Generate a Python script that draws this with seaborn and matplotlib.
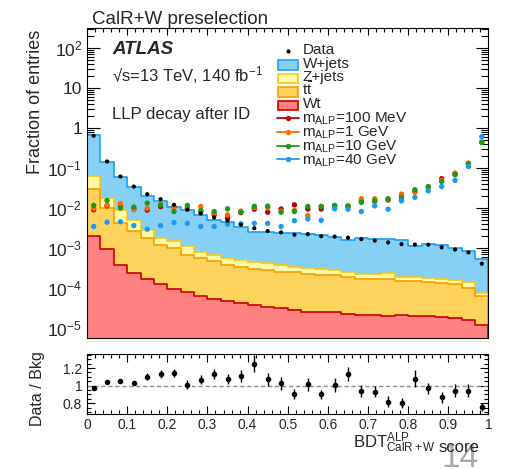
import numpy as np
import pandas as pd
import matplotlib
matplotlib.use("Agg")
import matplotlib.pyplot as plt
import seaborn as sns
from matplotlib.ticker import (LogLocator, FuncFormatter, MultipleLocator,
                               FixedLocator, NullFormatter)
from matplotlib.patches import Rectangle
from matplotlib.lines import Line2D

# ---------------- data ----------------
n_bins = 30
data_frac = [0.65, 0.148, 0.0625, 0.035, 0.0225, 0.0169, 0.0122, 0.0092, 0.0074, 0.0059,
             0.0049, 0.0039, 0.00317, 0.00271, 0.00250, 0.00218, 0.00226, 0.00200, 0.00196, 0.00184,
             0.0017, 0.00156, 0.00140, 0.00127, 0.00124, 0.00123, 0.00106, 0.00093, 0.00079, 0.00041]
# stack levels (cumulative tops): Wt, Wt+ttbar, Wt+ttbar+Z+jets, total (+W+jets)
stack_total = [0.665, 0.143, 0.0594, 0.034, 0.0204, 0.0149, 0.0107, 0.0091, 0.0069, 0.0052,
               0.00455, 0.0035, 0.00254, 0.00253, 0.00245, 0.00240, 0.00224, 0.00220, 0.00196, 0.00163,
               0.00181, 0.00168, 0.00170, 0.00158, 0.00113, 0.00127, 0.00122, 0.00099, 0.00084, 0.00055]
stack_zjets = [0.065, 0.0186, 0.0092, 0.0050, 0.0029, 0.0018, 0.00148, 0.00115, 0.00083, 0.00069,
               0.00057, 0.00051, 0.00045, 0.00043, 0.00039, 0.00035, 0.00032, 0.00031, 0.00028, 0.00026,
               0.00023, 0.000227, 0.000235, 0.000197, 0.000187, 0.00018, 0.000174, 0.000165, 0.000141, 7.6e-5]
stack_ttbar = [0.030, 0.010, 0.0042, 0.0027, 0.0018, 0.00122, 0.0010, 0.00069, 0.00056, 0.00047,
               0.00039, 0.00035, 0.00031, 0.00029, 0.00026, 0.00025, 0.00023, 0.00022, 0.00021, 0.000187,
               0.000175, 0.000174, 0.000174, 0.000156, 0.000148, 0.000142, 0.000135, 0.000127, 0.0001, 6.6e-5]
stack_wt = [0.0020, 0.00095, 0.00039, 0.00024, 0.000174, 0.000127, 9.7e-5, 7.9e-5, 6.3e-5, 5.4e-5,
            4.7e-5, 4.3e-5, 3.9e-5, 3.5e-5, 3.2e-5, 2.9e-5, 2.6e-5, 2.5e-5, 2.5e-5, 2.27e-5,
            2.2e-5, 2.1e-5, 2.05e-5, 2.1e-5, 2.0e-5, 2.0e-5, 1.9e-5, 1.86e-5, 1.6e-5, 1.23e-5]

sig_100mev = [0.0092, 0.0115, 0.011, 0.0098, 0.0090, 0.011, 0.011, 0.0100, 0.0082, 0.0069,
              0.0057, 0.0078, 0.0095, 0.0080, 0.0096, 0.0122, 0.0096, 0.0096, 0.0111, 0.0113,
              0.0155, 0.0150, 0.0160, 0.0200, 0.026, 0.033, 0.055, 0.072, 0.132, 0.45]
sig_1gev = [0.0100, 0.0120, 0.0130, 0.0092, 0.0100, 0.0125, 0.0105, 0.0100, 0.0111, 0.0075,
            0.0069, 0.0085, 0.0105, 0.0103, 0.0085, 0.0089, 0.0066, 0.0113, 0.0115, 0.0117,
            0.0173, 0.0173, 0.0165, 0.0226, 0.025, 0.034, 0.050, 0.076, 0.135, 0.46]
sig_10gev = [0.0118, 0.0157, 0.0101, 0.0107, 0.0135, 0.0122, 0.0083, 0.0118, 0.0088, 0.0083,
             0.0097, 0.0080, 0.0112, 0.0113, 0.0080, 0.0083, 0.0111, 0.0109, 0.0118, 0.0111,
             0.0140, 0.0155, 0.0173, 0.0182, 0.029, 0.035, 0.047, 0.069, 0.128, 0.44]
sig_40gev = [0.0035, 0.0045, 0.0046, 0.0037, 0.0030, 0.0037, 0.0044, 0.0042, 0.0035, 0.0035,
             0.0040, 0.0041, 0.0042, 0.0042, 0.0035, 0.0049, 0.0054, 0.0050, 0.0097, 0.0095,
             0.0083, 0.0115, 0.0095, 0.0154, 0.0187, 0.0274, 0.035, 0.050, 0.111, 0.62]

ratio = [0.977, 1.038, 1.053, 1.03, 1.103, 1.133, 1.145, 1.011, 1.069, 1.13,
         1.076, 1.114, 1.248, 1.072, 1.027, 0.90, 1.015, 0.90, 1.008, 1.133,
         0.939, 0.931, 0.817, 0.798, 1.08, 0.97, 0.867, 0.943, 0.943, 0.752]
ratio_err = [0.008, 0.010, 0.012, 0.014, 0.038, 0.045, 0.045, 0.050, 0.053, 0.057,
             0.060, 0.068, 0.095, 0.072, 0.076, 0.057, 0.076, 0.053, 0.084, 0.076,
             0.065, 0.065, 0.065, 0.057, 0.095, 0.065, 0.065, 0.076, 0.076, 0.046]

bkg_labels = ["W+jets", "Z+jets", r"t$\bar{\mathrm{t}}$", "Wt"]
sig_labels = [r"m$_{\mathrm{ALP}}$=100 MeV", r"m$_{\mathrm{ALP}}$=1 GeV",
              r"m$_{\mathrm{ALP}}$=10 GeV", r"m$_{\mathrm{ALP}}$=40 GeV"]

# ---------------- style ----------------
W, H = 506, 469
sns.set_theme(style="ticks")
plt.rcParams["font.family"] = ["Liberation Sans", "DejaVu Sans"]
plt.rcParams["mathtext.fontset"] = "custom"
plt.rcParams["mathtext.rm"] = "Liberation Sans"
plt.rcParams["mathtext.it"] = "Liberation Sans:italic"
plt.rcParams["mathtext.bf"] = "Liberation Sans:bold"
plt.rcParams["axes.linewidth"] = 0.8
plt.rcParams["axes.edgecolor"] = "black"

fill_cols = ["#86d0f6", "#fff9a8", "#fdd35e", "#ff8282"]
edge_cols = ["#1a9ff0", "#f7c61c", "#f7a000", "#cc0000"]
sig_cols = ["#c00000", "#ff6a00", "#1a9a1a", "#1a9af0"]

def fx(x):
    return x / W

def fy(y):
    return 1 - y / H

fig = plt.figure(figsize=(W / 100, H / 100), dpi=100)
fig.patch.set_facecolor("white")
ax = fig.add_axes([fx(87), fy(338.3), (488.5 - 87) / W, (338.3 - 28.3) / H])
axr = fig.add_axes([fx(87), fy(413.7), (488.5 - 87) / W, (413.7 - 354) / H])

edges = np.linspace(0, 1, n_bins + 1)
centers = 0.5 * (edges[:-1] + edges[1:])
bin_list = [float(e) for e in edges]

ax.set_yscale("log")
levels = [stack_total, stack_zjets, stack_ttbar, stack_wt]
for vals, fc, ec in zip(levels, fill_cols, edge_cols):
    df = pd.DataFrame({"score": centers, "frac": vals})
    sns.histplot(data=df, x="score", weights="frac", bins=bin_list, element="step",
                 fill=True, color=fc, edgecolor=ec, alpha=1, linewidth=1.2, ax=ax)

for vals, c in zip([sig_100mev, sig_1gev, sig_10gev, sig_40gev], sig_cols):
    sns.scatterplot(x=centers, y=vals, color=c, s=15, edgecolor="none", linewidth=0,
                    ax=ax, zorder=3, legend=False)
sns.scatterplot(x=centers, y=data_frac, color="black", s=9, edgecolor="none", linewidth=0,
                ax=ax, zorder=4, legend=False)

ax.set_xlim(0, 1)
ax.set_ylim(10 ** -5.25, 10 ** 2.5)
ax.set_xlabel("")
ax.set_ylabel("")

def log_fmt(v, _):
    e = int(round(np.log10(v)))
    if e == 0:
        return "1"
    if e == 1:
        return "10"
    return r"10$^{%d}$" % e

ax.yaxis.set_major_locator(LogLocator(base=10, numticks=20))
ax.yaxis.set_minor_locator(LogLocator(base=10, subs=np.arange(2, 10), numticks=20))
ax.yaxis.set_major_formatter(FuncFormatter(log_fmt))
ax.yaxis.set_minor_formatter(NullFormatter())
ax.xaxis.set_major_locator(MultipleLocator(0.1))
ax.xaxis.set_minor_locator(MultipleLocator(0.02))
ax.tick_params(axis="both", which="both", direction="in", top=True, right=True,
               labelbottom=False, width=0.8, color="black")
ax.tick_params(axis="y", which="major", length=9, labelsize=12.5, pad=3.5)
ax.tick_params(axis="y", which="minor", length=5)
ax.tick_params(axis="x", which="major", length=5.3)
ax.tick_params(axis="x", which="minor", length=2.6)

# ratio panel
axr.errorbar(centers, ratio, yerr=ratio_err, fmt="o", color="black", ms=3.0,
             elinewidth=1.0, capsize=0, zorder=3)
axr.axhline(1.0, color="#8c8c8c", lw=1.0, ls=(0, (3, 2)), zorder=1)
axr.set_xlim(0, 1)
axr.set_ylim(0.68, 1.36)
axr.xaxis.set_major_locator(MultipleLocator(0.1))
axr.xaxis.set_minor_locator(MultipleLocator(0.02))
axr.xaxis.set_major_formatter(FuncFormatter(lambda v, _: f"{v:g}"))
axr.yaxis.set_major_locator(FixedLocator([0.8, 1.0, 1.2]))
axr.yaxis.set_minor_locator(MultipleLocator(0.05))
axr.yaxis.set_major_formatter(FuncFormatter(lambda v, _: f"{v:g}"))
axr.tick_params(axis="both", which="both", direction="in", top=True, right=True,
                width=0.8, color="black", labelsize=10)
axr.tick_params(axis="x", which="major", length=5.5, pad=3)
axr.tick_params(axis="x", which="minor", length=2.8)
axr.tick_params(axis="y", which="major", length=6, pad=3.5)
axr.tick_params(axis="y", which="minor", length=3)

# ---------------- texts ----------------
fig.text(fx(91.5), fy(23.5), "CalR+W preselection", fontsize=13.5, va="baseline", ha="left")
fig.text(fx(112), fy(54.3), "ATLAS", fontsize=13.5, weight="bold", style="italic",
         va="baseline", ha="left")
fig.text(fx(112), fy(81.7), "√s=13 TeV, 140 fb$^{-1}$", fontsize=12, va="baseline", ha="left")
fig.text(fx(112), fy(119.3), "LLP decay after ID", fontsize=12, va="baseline", ha="left")
fig.text(fx(35), fy(30), "Fraction of entries", fontsize=13, rotation=90,
         ha="center", va="top")
fig.text(fx(38), fy(389), "Data / Bkg", fontsize=11.5, rotation=90,
         ha="center", va="center")
fig.text(fx(436), fy(448.3), r"BDT$^{\mathrm{ALP}}_{\mathrm{CalR+W}}$", fontsize=12,
         ha="right", va="baseline")
fig.text(fx(438.5), fy(451.5), "score", fontsize=12, ha="left", va="baseline")
fig.text(fx(442), fy(466.5), "14", fontsize=24, color="#a8a8a8", ha="left", va="baseline",
         zorder=0)
fig.add_artist(Line2D([fx(87), fx(489)], [fy(341), fy(341)], transform=fig.transFigure,
                      color="#e6e6e6", lw=1.0))

# ---------------- legend (manual, ROOT-like) ----------------
leg_fs = 11
tx = 302.5
fig.add_artist(Line2D([fx(288)], [fy(51.2)], transform=fig.transFigure, marker="o",
                      ms=3.0, color="black", mec="none", ls="none"))
fig.text(fx(tx), fy(54.5), "Data", fontsize=leg_fs, va="baseline", ha="left")
box_tops = [60.5, 73.8, 87.2, 100.6]
base_y = [67.8, 81.1, 94.8, 108.5]
for top, by, fc, ec, lab in zip(box_tops, base_y, fill_cols, edge_cols, bkg_labels):
    fig.add_artist(Rectangle((fx(277.5), fy(top + 9.5)), 20.5 / W, 9.5 / H,
                             transform=fig.transFigure, facecolor=fc, edgecolor=ec, lw=1.2))
    fig.text(fx(tx), fy(by), lab, fontsize=leg_fs, va="baseline", ha="left")
sig_rows = [117.8, 132.0, 145.6, 159.4]
for yy, c, lab in zip(sig_rows, sig_cols, sig_labels):
    fig.add_artist(Line2D([fx(277), fx(299)], [fy(yy), fy(yy)], transform=fig.transFigure,
                          color=c, lw=1.3))
    fig.add_artist(Line2D([fx(288)], [fy(yy)], transform=fig.transFigure, marker="o",
                          ms=3.9, color=c, mec="none", ls="none"))
    fig.text(fx(tx), fy(yy + 4.8), lab, fontsize=leg_fs, va="baseline", ha="left")

fig.savefig("out.png", dpi=100, facecolor="white")
